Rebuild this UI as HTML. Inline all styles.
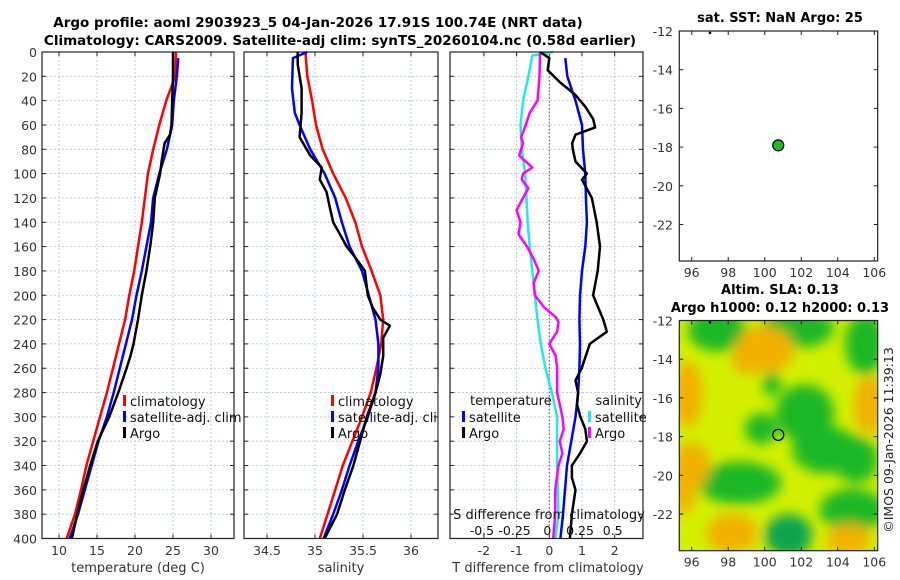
<!DOCTYPE html>
<html><head><meta charset="utf-8">
<style>
body{margin:0;background:#fff;}
svg{display:block;font-family:"DejaVu Sans","Liberation Sans",sans-serif;}
</style></head>
<body>
<svg id="c" width="900" height="580" viewBox="0 0 900 580" xmlns="http://www.w3.org/2000/svg">
<defs>
<filter id="blur" x="-50%" y="-50%" width="200%" height="200%"><feGaussianBlur stdDeviation="6"/></filter>
<clipPath id="mapclip"><rect x="679" y="320" width="199" height="231"/></clipPath>
</defs>
<text x="318" y="27" text-anchor="middle" font-size="13.5" font-weight="bold">Argo profile: aoml 2903923_5 04-Jan-2026 17.91S 100.74E (NRT data)</text>
<text x="340" y="45" text-anchor="middle" font-size="13.5" font-weight="bold">Climatology: CARS2009. Satellite-adj clim: synTS_20260104.nc (0.58d earlier)</text>
<text x="780" y="22" text-anchor="middle" font-size="13" font-weight="bold">sat. SST: NaN Argo: 25</text>
<text x="780" y="294" text-anchor="middle" font-size="13" font-weight="bold">Altim. SLA: 0.13</text>
<text x="780" y="312" text-anchor="middle" font-size="13" font-weight="bold">Argo h1000: 0.12 h2000: 0.13</text>
<text transform="translate(893,440) rotate(-90)" text-anchor="middle" font-size="12.5" fill="#222">©IMOS 09-Jan-2026 11:39:13</text>
</svg>
<script>
// ---------- data ----------
const depthTicks=[0,20,40,60,80,100,120,140,160,180,200,220,240,260,280,300,320,340,360,380,400];
const tTicks=[10,15,20,25,30];
const sTicks=[34.5,35,35.5,36];
const dtTicks=[-2,-1,0,1,2];
const dsTicks=[-0.5,-0.25,0,0.25,0.5];
const dsTickLabels=["-0.5","-0.25","0","0.25","0.5"];
const lonTicks=[96,98,100,102,104,106];
const latTicks=[-12,-14,-16,-18,-20,-22];

const tClimDepth=[0,20,40,60,80,100,120,140,160,180,200,220,240,260,280,300,320,340,360,380,400];
const tClim=[25.4,25.3,24.1,23.2,22.4,21.7,21.3,20.9,20.4,19.9,19.25,18.7,17.9,17.1,16.3,15.4,14.5,13.6,12.9,12.1,11.0];
const tSatDepth=[5,20,40,60,80,100,120,140,160,180,200,220,240,260,280,300,320,340,360,380,400];
const tSat=[25.7,25.5,25.1,24.9,24.2,23.2,22.4,22.1,21.5,20.9,20.2,19.6,18.8,18.0,17.2,16.3,15.2,14.3,13.4,12.5,11.4];
const tArgoDepth=[0,10,20,40,60,68,75,90,100,120,140,160,180,200,220,240,250,260,280,300,320,340,360,380,400];
const tArgo=[25.0,25.0,25.0,24.9,24.8,24.6,23.9,23.5,23.3,22.6,22.4,22.0,21.5,20.9,20.4,19.8,19.4,18.9,17.8,16.6,15.1,14.1,13.2,12.4,11.7];

const sClimDepth=[0,20,40,60,80,100,120,140,160,180,200,220,240,260,280,300,320,340,360,380,400];
const sClim=[34.9,34.92,34.97,35.01,35.08,35.19,35.32,35.42,35.49,35.59,35.68,35.71,35.69,35.64,35.58,35.49,35.39,35.29,35.21,35.13,35.05];
const sSatDepth=[0,5,30,50,60,80,100,120,140,160,180,200,220,240,260,280,300,320,340,360,380,400];
const sSat=[34.92,34.77,34.76,34.79,34.84,34.95,35.1,35.21,35.28,35.36,35.49,35.56,35.63,35.66,35.66,35.63,35.55,35.45,35.36,35.28,35.19,35.09];
const sArgoDepth=[0,10,30,50,70,85,95,105,115,130,140,150,160,170,180,200,210,220,225,235,250,265,280,300,320,340,360,380,400];
const sArgo=[34.82,34.82,34.86,34.86,34.84,34.95,35.07,35.05,35.12,35.16,35.19,35.26,35.33,35.43,35.52,35.55,35.6,35.68,35.78,35.71,35.71,35.68,35.63,35.54,35.47,35.40,35.31,35.23,35.10];

const dtSatDepth=[5,20,40,60,80,100,120,140,160,180,200,220,240,260,280,300,340,380,400];
const dtSat=[0.49,0.55,0.8,1.0,1.03,1.1,1.12,1.15,1.1,1.0,0.94,0.92,0.94,0.92,0.88,0.8,0.54,0.42,0.34];
const dtArgoDepth=[0,5,15,25,35,45,55,62,68,75,80,90,100,105,120,140,160,180,200,220,230,240,260,270,280,290,300,310,320,330,340,350,360,380,400];
const dtArgo=[-0.28,0.0,-0.05,0.33,0.79,1.1,1.34,1.4,0.8,0.7,0.72,0.8,1.15,1.0,1.3,1.45,1.55,1.48,1.34,1.65,1.76,1.24,0.99,0.8,0.88,0.85,0.95,1.1,1.15,0.94,0.69,0.69,0.8,0.69,0.63];
const dsSatDepth=[0,3,20,40,60,80,100,120,140,160,180,200,220,240,260,280,300,340,380,400];
const dsSat=[0.03,-0.13,-0.16,-0.2,-0.22,-0.21,-0.185,-0.175,-0.165,-0.15,-0.13,-0.11,-0.09,-0.065,-0.03,0.02,0.06,0.06,0.07,0.045];
const dsArgoDepth=[0,20,40,50,60,70,75,85,95,100,105,112,120,130,140,150,160,170,180,190,200,210,218,222,230,240,250,260,280,290,300,310,320,330,340,360,380,400];
const dsArgo=[-0.07,-0.075,-0.09,-0.15,-0.18,-0.215,-0.2,-0.23,-0.13,-0.2,-0.21,-0.16,-0.2,-0.25,-0.22,-0.235,-0.17,-0.12,-0.08,-0.12,-0.11,-0.04,0.05,0.07,0.06,0.0,0.05,0.06,0.06,0.08,0.1,0.11,0.08,0.1,0.07,0.045,0.045,0.03];

const argoLon=[100.74], argoLat=[-17.91];
const smallDotLon=[97.0], smallDotLat=[-12.1];
// SLA field blobs: lon, lat, rx(deg), ry(deg), level(+1 high/orange, -1 low/green, -2 darker)
const blobLon=[97.4,101.8,105.5,100.4,102.2,103.4,105.0,99.8,98.6,104.8,101.3,100.0,95.8,105.7,96.0,98.2,104.6,95.6,99.0];
const blobLat=[-12.5,-12.4,-13.2,-15.3,-16.8,-18.7,-19.2,-17.6,-20.4,-21.8,-23.1,-13.5,-15.8,-16.4,-19.5,-23.0,-23.3,-20.8,-14.0];
const blobRx=[1.6,2.0,1.1,0.5,1.6,1.9,1.2,0.9,2.3,1.8,1.3,1.6,0.8,0.8,1.0,1.4,1.2,0.6,0.8];
const blobRy=[1.1,1.0,1.6,0.6,1.5,1.2,1.2,0.8,1.1,1.1,1.1,1.2,1.7,1.5,1.2,1.0,0.8,1.2,0.8];
const blobLevel=[-1,-1,-1,-1,-1,-1,-1,-1,-1,-1,-2,1,1,1,1,1,1,1,1];

// ---------- helpers ----------
const svg=document.getElementById('c');
const NS='http://www.w3.org/2000/svg';
function mk(tag,attrs,parent){const e=document.createElementNS(NS,tag);for(const k in attrs)e.setAttribute(k,attrs[k]);(parent||svg).appendChild(e);return e;}
function lin(d0,d1,r0,r1){return v=>r0+(v-d0)*(r1-r0)/(d1-d0);}
const Y=lin(0,400,52,538.5);
const PTOP=52,PBOT=538.5;

function panelFrame(x0,x1,name){
  const r=mk('rect',{x:x0,y:PTOP,width:x1-x0,height:PBOT-PTOP,fill:'#fff',stroke:'none'});
  
  
}
function gridY(x0,x1){
  depthTicks.forEach(d=>{const y=Y(d);
    const l=mk('line',{x1:x0,x2:x1,y1:y,y2:y,stroke:'#b8bfe0','stroke-width':0.8,'stroke-dasharray':'2,2'});
    
    
    mk('line',{x1:x0,x2:x0+4,y1:y,y2:y,stroke:'#222'});
    mk('line',{x1:x1-4,x2:x1,y1:y,y2:y,stroke:'#222'});
  });
}
function gridX(vals,X,name){
  vals.forEach(v=>{const x=X(v);
    const l=mk('line',{x1:x,x2:x,y1:PTOP,y2:PBOT,stroke:'#b8bfe0','stroke-width':0.8,'stroke-dasharray':'2,2'});
    
    
    mk('line',{x1:x,x2:x,y1:PBOT,y2:PBOT-4,stroke:'#222'});
    mk('line',{x1:x,x2:x,y1:PTOP,y2:PTOP+4,stroke:'#222'});
  });
}
function xLabels(vals,X,name,labels){
  vals.forEach((v,i)=>{const t=mk('text',{x:X(v),y:555,'text-anchor':'middle','font-size':12.5,fill:'#333'});
    t.textContent=labels?labels[i]:String(v);
    
    
  });
}
function border(x0,x1,name){
  const r=mk('rect',{x:x0,y:PTOP,width:x1-x0,height:PBOT-PTOP,fill:'none',stroke:'#222','stroke-width':1.2});
  
  
}
function line(xs,ds,X,color,w,name){
  const pts=xs.map((v,i)=>X(v).toFixed(1)+','+Y(ds[i]).toFixed(1)).join(' ');
  const p=mk('polyline',{points:pts,fill:'none',stroke:color,'stroke-width':w,'stroke-linejoin':'round'});
  
  
}
function legendEntry(x,y,color,label,name){
  const g=mk('g',{});
  
  
  mk('rect',{x:x,y:y-6,width:3,height:11,fill:color},g);
  const t=mk('text',{x:x+7,y:y+5,'font-size':13,fill:'#111'},g);t.textContent=label;
}
function axisTitle(x,text,name){
  const t=mk('text',{x:x,y:572,'text-anchor':'middle','font-size':13,fill:'#333'});t.textContent=text;
  
  
}

// ---------- panel 1: temperature ----------
const XT=lin(10,30,59,211);
panelFrame(42,234,'temperature-panel');
gridX(tTicks,XT,'temperature');gridY(42,234);
line(tClim,tClimDepth,XT,'#ff0000',2.5,'temperature-climatology-line');
line(tSat,tSatDepth,XT,'#0000ff',2.5,'temperature-satellite-line');
line(tArgo,tArgoDepth,XT,'#000000',2.5,'temperature-argo-line');
border(42,234,'temperature-panel');
depthTicks.forEach(d=>{const t=mk('text',{x:37,y:Y(d)+5,'text-anchor':'end','font-size':12.5,fill:'#333'});t.textContent=d;
  
  });
xLabels(tTicks,XT,'temperature');
axisTitle(138,'temperature (deg C)','temperature-axis-title');
legendEntry(123,401,'#ff0000','climatology','legend-climatology');
legendEntry(123,417,'#0000ff','satellite-adj. clim','legend-satellite-adj');
legendEntry(123,433,'#000000','Argo','legend-argo');

// ---------- panel 2: salinity ----------
const XS=lin(35,36,315,411);
panelFrame(244,438,'salinity-panel');
gridX(sTicks,XS,'salinity');gridY(244,438);
line(sClim,sClimDepth,XS,'#ff0000',2.5,'salinity-climatology-line');
line(sSat,sSatDepth,XS,'#0000ff',2.5,'salinity-satellite-line');
line(sArgo,sArgoDepth,XS,'#000000',2.5,'salinity-argo-line');
xLabels(sTicks,XS,'salinity');
axisTitle(341,'salinity','salinity-axis-title');
legendEntry(331,401,'#ff0000','climatology','legend-climatology-2');
legendEntry(331,417,'#0000ff','satellite-adj. clim','legend-satellite-adj-2');
legendEntry(331,433,'#000000','Argo','legend-argo-2');
border(244,438,'salinity-panel');

// ---------- panel 3: differences ----------
const XDT=lin(0,1,549.3,582);
const XDS=lin(0,0.25,549.3,582);
mk('rect',{x:438.5,y:380,width:11,height:60,fill:'#fff'});
panelFrame(450,643,'difference-panel');
gridX(dtTicks,XDT,'t-difference');gridY(450,643);
const zl=mk('line',{x1:XDT(0),x2:XDT(0),y1:PTOP,y2:PBOT,stroke:'#555','stroke-width':1,'stroke-dasharray':'1.5,2'});


line(dsSat,dsSatDepth,XDS,'#22e8e8',2.5,'salinity-difference-satellite-line');
line(dsArgo,dsArgoDepth,XDS,'#ff00ff',2.5,'salinity-difference-argo-line');
line(dtSat,dtSatDepth,XDT,'#0000ff',2.5,'temperature-difference-satellite-line');
line(dtArgo,dtArgoDepth,XDT,'#000000',2.5,'temperature-difference-argo-line');
xLabels(dtTicks,XDT,'t-difference');
axisTitle(548,'T difference from climatology','t-difference-axis-title');
{const t=mk('text',{x:549,y:519,'text-anchor':'middle','font-size':13,fill:'#111'});t.textContent='S difference from climatology';
 
 }
dsTicks.forEach((v,i)=>{const t=mk('text',{x:XDS(v)-2,y:535,'text-anchor':'middle','font-size':12.5,fill:'#111'});t.textContent=dsTickLabels[i];
  
  });
{const t=mk('text',{x:470,y:405,'font-size':13,fill:'#111'});t.textContent='temperature';
 
 }
legendEntry(462,417,'#0000ff','satellite','legend-t-satellite');
legendEntry(462,433,'#000000','Argo','legend-t-argo');
{const t=mk('text',{x:642,y:405,'text-anchor':'end','font-size':13,fill:'#111'});t.textContent='salinity';
 
 }
legendEntry(588,417,'#22e8e8','satellite','legend-s-satellite');
legendEntry(588,433,'#ff00ff','Argo','legend-s-argo');
border(450,643,'difference-panel');

// ---------- maps ----------
const LX=lin(96,106,691.7,874.3);
function mapAxes(top,bot,name){
  const LY=lin(-12,-22,top,top+193.5);
  lonTicks.forEach(v=>{const x=LX(v);
    mk('line',{x1:x,x2:x,y1:bot,y2:bot-4,stroke:'#222'});mk('line',{x1:x,x2:x,y1:top,y2:top+4,stroke:'#222'});
    const t=mk('text',{x:x,y:bot+16,'text-anchor':'middle','font-size':12.5,fill:'#333'});t.textContent=v;
    
    });
  latTicks.forEach(v=>{const y=LY(v);
    mk('line',{x1:679.3,x2:683.3,y1:y,y2:y,stroke:'#222'});mk('line',{x1:877.7,x2:873.7,y1:y,y2:y,stroke:'#222'});
    const t=mk('text',{x:673,y:y+5,'text-anchor':'end','font-size':12.5,fill:'#333'});t.textContent=v;
    
    });
  const r=mk('rect',{x:679.3,y:top,width:198.4,height:bot-top,fill:'none',stroke:'#222','stroke-width':1.2});
  
  
  return LY;
}
// SST map
const LY1=lin(-12,-22,31,224.5);
{const r=mk('rect',{x:679.3,y:31,width:198.4,height:230,fill:'#fff'});
 }
smallDotLon.forEach((v,i)=>{const c=mk('circle',{cx:LX(v),cy:LY1(smallDotLat[i]),r:1.3,fill:'#000'});
  });
argoLon.forEach((v,i)=>{const c=mk('circle',{cx:LX(v),cy:LY1(argoLat[i]),r:5.5,fill:'#22bb22',stroke:'#000','stroke-width':1.2});
  });
mapAxes(31,261,'sst-map');
// SLA map
const LY2=lin(-12,-22,320.5,514);
const mg=mk('g',{'clip-path':'url(#mapclip)'});


mk('rect',{x:679,y:320,width:199,height:231,fill:'#d2f000'},mg);
const bg=mk('g',{filter:'url(#blur)'},mg);
const pxPerLon=18.26,pxPerLat=19.35;
blobLon.forEach((v,i)=>{
  const lv=blobLevel[i];
  const col=lv>0?'#f2b000':(lv<-1?'#10a450':'#1cb828');
  const e=mk('ellipse',{cx:LX(v),cy:LY2(blobLat[i]),rx:blobRx[i]*pxPerLon,ry:blobRy[i]*pxPerLat,fill:col},bg);
  
  
});
smallDotLon.forEach((v,i)=>{const c=mk('circle',{cx:LX(v),cy:LY2(smallDotLat[i]),r:1.3,fill:'#000'});
  });
argoLon.forEach((v,i)=>{const c=mk('circle',{cx:LX(v),cy:LY2(argoLat[i]),r:5.5,fill:'none',stroke:'#000','stroke-width':1.3});
  });
mapAxes(320.5,550.7,'sla-map');
</script>
</body></html>
